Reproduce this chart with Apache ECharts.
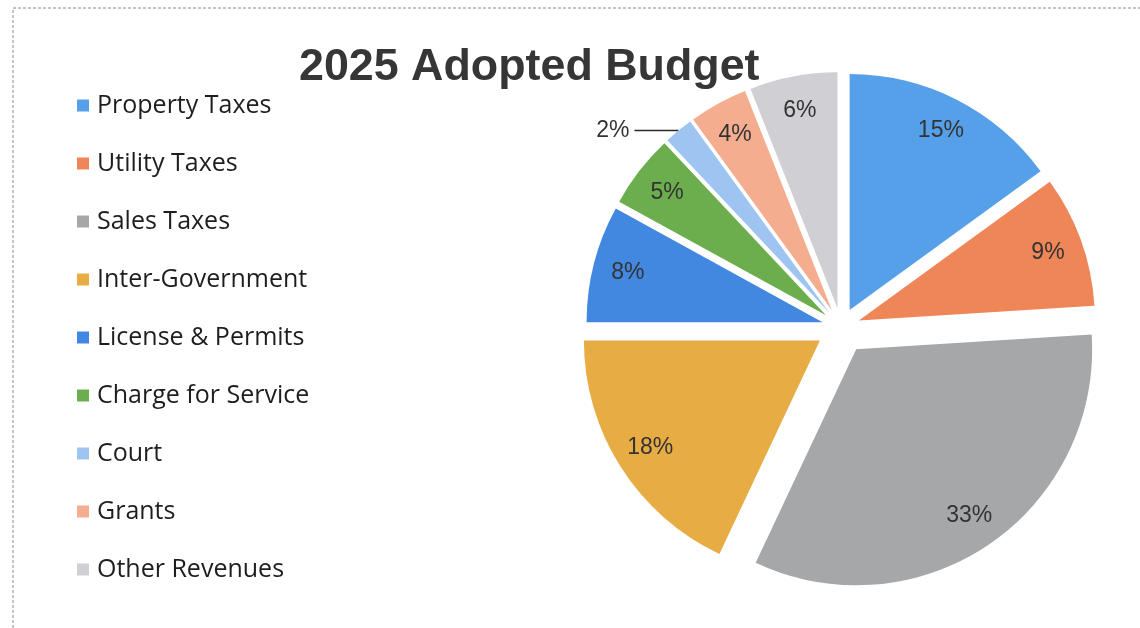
<!DOCTYPE html>
<html>
<head>
<meta charset="utf-8">
<title>2025 Adopted Budget</title>
<script src="https://cdn.jsdelivr.net/npm/echarts@6/dist/echarts.min.js"></script>
<style>
  html, body { margin: 0; padding: 0; background: #ffffff; }
  #chart { width: 1140px; height: 628px; }
</style>
</head>
<body>
<div id="chart"></div>
<script>
// Revenue sources and their share of the 2025 adopted budget (percent)
const categories = [
  'Property Taxes', 'Utility Taxes', 'Sales Taxes', 'Inter-Government',
  'License & Permits', 'Charge for Service', 'Court', 'Grants', 'Other Revenues'
];
const shares = [15, 9, 33, 18, 8, 5, 2, 4, 6];
const sliceColors = [
  '#56A0EA', '#EE8658', '#A6A7A9', '#E7AC44',
  '#4388E0', '#6CAE4E', '#9EC5F2', '#F5AD90', '#D0D0D4'
];

const chart = echarts.init(document.getElementById('chart'), null, { renderer: 'canvas' });

const CENTER = [841, 327];
const RADIUS = 236;
const LABEL_RING = [160, RADIUS];
// How far each slice is pulled out from the centre (px)
const BASE_EXPLODE = 19;
const WIDE_EXPLODE = { 'Sales Taxes': 27, 'Inter-Government': 25 };
// Court is too thin for an inside label, so it gets a leader line
const OUTSIDE_LABEL = 'Court';

function explodeOf(name) {
  return WIDE_EXPLODE[name] !== undefined ? WIDE_EXPLODE[name] : BASE_EXPLODE;
}

const offsets = Array.from(new Set(categories.map(explodeOf)));
const hidden = 'rgba(0,0,0,0)';

// One slice series and one label ring per pull-out distance; every series
// holds the full data so all slices keep the same angles.
const series = [];
offsets.forEach((offset) => {
  const member = (name) => explodeOf(name) === offset;

  series.push({
    type: 'pie',
    center: CENTER,
    radius: [0, RADIUS],
    startAngle: 90,
    clockwise: true,
    selectedMode: 'multiple',
    selectedOffset: offset,
    silent: true,
    label: { show: false },
    labelLine: { show: false },
    emphasis: { disabled: true },
    data: categories.map((name, i) => ({
      name: name,
      value: shares[i],
      selected: member(name),
      itemStyle: { color: member(name) ? sliceColors[i] : hidden }
    }))
  });

  series.push({
    type: 'pie',
    center: CENTER,
    radius: LABEL_RING,
    startAngle: 90,
    clockwise: true,
    selectedMode: 'multiple',
    selectedOffset: offset,
    silent: true,
    avoidLabelOverlap: false,
    label: {
      show: true,
      position: 'inside',
      formatter: '{c}%',
      fontFamily: 'Liberation Sans, Arial, sans-serif',
      fontSize: 23,
      color: '#333333'
    },
    labelLine: { show: false },
    emphasis: { disabled: true },
    data: categories.map((name, i) => {
      const item = {
        name: name,
        value: shares[i],
        selected: member(name),
        itemStyle: { color: hidden }
      };
      if (!member(name)) {
        item.label = { show: false };
      } else if (name === OUTSIDE_LABEL) {
        item.label = { position: 'outside', distanceToLabelLine: 5 };
        item.labelLine = {
          show: true, length: 0, length2: 44,
          lineStyle: { color: '#2a2a2a', width: 1.5 }
        };
      }
      return item;
    })
  });
});

chart.setOption({
  animation: false,
  backgroundColor: '#ffffff',
  title: {
    text: '2025 Adopted Budget',
    left: 294,
    top: 40,
    textStyle: {
      fontFamily: 'Liberation Sans, Arial, sans-serif',
      fontSize: 44.8,
      fontWeight: 'bold',
      color: '#363636'
    }
  },
  legend: {
    orient: 'vertical',
    left: 72,
    top: 88,
    icon: 'rect',
    itemWidth: 12,
    itemHeight: 12,
    itemGap: 33,
    selectedMode: false,
    data: categories.map((name, i) => ({
      name: name,
      itemStyle: { color: sliceColors[i] }
    })),
    textStyle: {
      fontFamily: 'Open Sans, sans-serif',
      fontSize: 25,
      lineHeight: 25,
      color: '#1e1e1e',
      padding: [0, 0, 0, 3]
    }
  },
  graphic: [{
    type: 'polyline',
    silent: true,
    shape: { points: [[13, 628], [13, 8], [1140, 8]] },
    style: { stroke: '#8a8a8a', lineWidth: 1, lineDash: [3, 2], fill: null }
  }],
  series: series
});
</script>
</body>
</html>
